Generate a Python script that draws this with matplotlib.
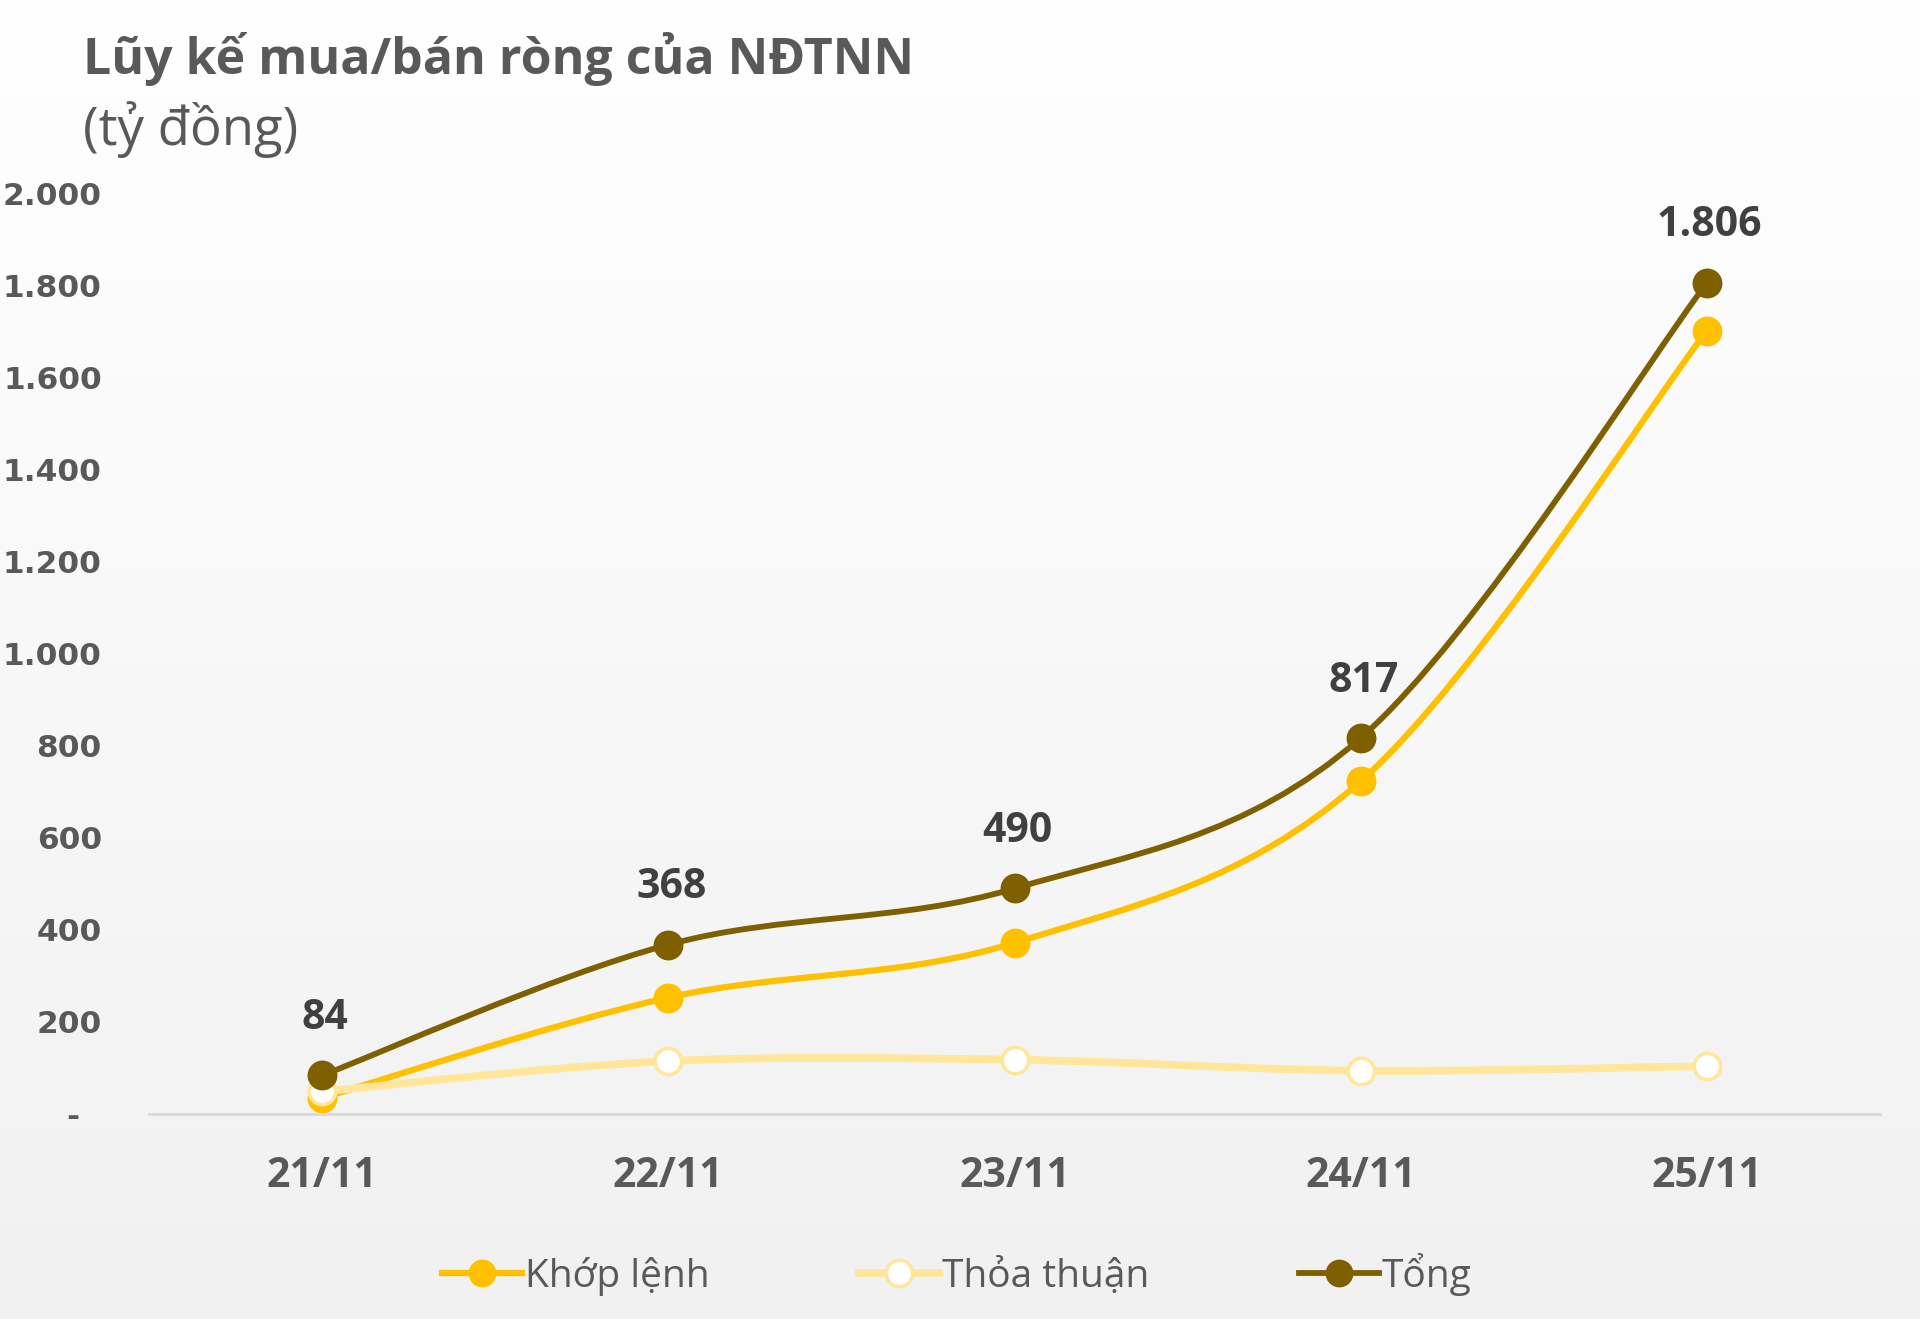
import numpy as np
import matplotlib.pyplot as plt
from matplotlib.path import Path
from matplotlib.patches import PathPatch
from matplotlib.lines import Line2D

# du lieu
days = ['21/11', '22/11', '23/11', '24/11', '25/11']
khop_lenh = [35, 253, 372, 723, 1702]
thoa_thuan = [49, 115, 118, 94, 104]
tong = [84, 368, 490, 817, 1806]
yticks = [0, 200, 400, 600, 800, 1000, 1200, 1400, 1600, 1800, 2000]

c_khop = '#FFC000'
c_thoa = '#FFE699'
c_tong = '#7F6000'
c_text = '#595959'


def smooth_path(xs, ys):
    # duong cong kieu Excel (Catmull-Rom -> Bezier)
    pts = np.column_stack([xs, ys]).astype(float)
    n = len(pts)
    verts = [pts[0]]
    codes = [Path.MOVETO]
    for i in range(n - 1):
        p0 = pts[max(i - 1, 0)]
        p1 = pts[i]
        p2 = pts[i + 1]
        p3 = pts[min(i + 2, n - 1)]
        c1 = p1 + (p2 - p0) / 6.0
        c2 = p2 - (p3 - p1) / 6.0
        verts += [c1, c2, p2]
        codes += [Path.CURVE4] * 3
    return Path(verts, codes)


fig = plt.figure(figsize=(19.2, 13.19), dpi=100)

# nen gradient
bg = fig.add_axes([0, 0, 1, 1], zorder=-10)
grad = np.linspace(1.0, 0.945, 256).reshape(-1, 1)
bg.imshow(np.dstack([grad, grad, grad]), aspect='auto', extent=[0, 1, 0, 1])
bg.axis('off')

ax = fig.add_axes([0.0776, 0.1554, 0.9016, 0.6979])
ax.patch.set_alpha(0)
x = np.arange(len(days))

series = [
    (khop_lenh, c_khop, c_khop, 4.5, 2),
    (thoa_thuan, c_thoa, 'white', 5.5, 3),
    (tong, c_tong, c_tong, 4.2, 4),
]
for vals, col, face, lw, z in series:
    ax.add_patch(PathPatch(smooth_path(x, vals), facecolor='none', edgecolor=col,
                           lw=lw, zorder=z, capstyle='round'))
    ax.plot(x, vals, linestyle='none', marker='o', markersize=19,
            markerfacecolor=face, markeredgecolor=col, markeredgewidth=2.5, zorder=z + 0.5)

for xi, v in zip(x, tong):
    lab = f'{v:,}'.replace(',', '.')
    ax.annotate(lab, (xi, v), xytext=(2, 41), textcoords='offset points',
                ha='center', va='center', fontsize=29.5, fontweight='bold',
                color='#404040', family='Open Sans', zorder=10)

ax.set_xlim(-0.5, 4.5)
ax.set_ylim(0, 2000)
ax.set_xticks(x)
ax.set_xticklabels(days, fontsize=29.5, fontweight='bold', color=c_text, family='Open Sans')
ax.set_yticks(yticks)
ax.set_yticklabels(['-  ' if t == 0 else f'{t:,}'.replace(',', '.') for t in yticks],
                   fontsize=22.5, fontweight='bold', color=c_text, family='DejaVu Sans')
ax.tick_params(axis='both', length=0)
ax.tick_params(axis='y', pad=34)
ax.tick_params(axis='x', pad=30)
for s in ['top', 'right', 'left']:
    ax.spines[s].set_visible(False)
ax.spines['bottom'].set_color('#d9d9d9')
ax.spines['bottom'].set_linewidth(2)

fig.text(0.0432, 0.944, 'Lũy kế mua/bán ròng của NĐTNN', fontsize=36, fontweight='bold',
         color=c_text, family='Open Sans', va='baseline')
fig.text(0.0432, 0.89, '(tỷ đồng)', fontsize=38, color=c_text, family='Open Sans', va='baseline')

handles = [
    Line2D([], [], color=c_khop, lw=4.5, marker='o', markersize=19,
           markerfacecolor=c_khop, markeredgecolor=c_khop),
    Line2D([], [], color=c_thoa, lw=5.5, marker='o', markersize=19,
           markerfacecolor='white', markeredgecolor=c_thoa, markeredgewidth=2.5),
    Line2D([], [], color=c_tong, lw=4.2, marker='o', markersize=19,
           markerfacecolor=c_tong, markeredgecolor=c_tong),
]
leg = fig.legend(handles, ['Khớp lệnh', 'Thỏa thuận', 'Tổng'], loc='center',
                 bbox_to_anchor=(0.4984, 0.034), ncol=3, frameon=False,
                 prop={'family': 'Open Sans', 'size': 28}, handlelength=2.05,
                 handletextpad=0.08, columnspacing=3.85)
for t in leg.get_texts():
    t.set_color(c_text)

fig.savefig('out.png', dpi=100)
